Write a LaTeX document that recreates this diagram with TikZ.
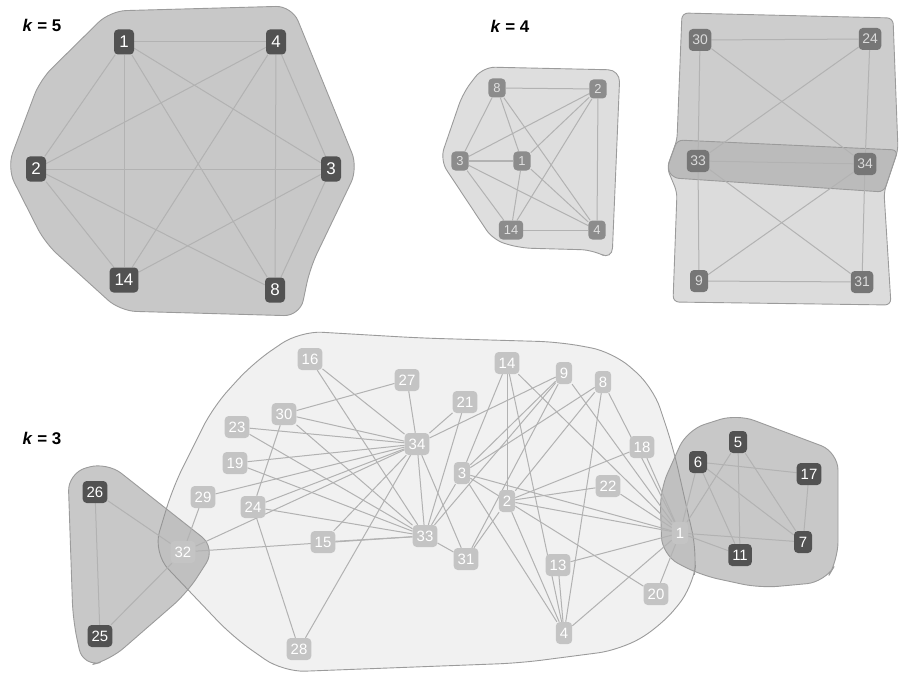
\documentclass[tikz,border=0pt]{standalone}
\usepackage{fontspec}
\setmainfont{Liberation Sans}
\usetikzlibrary{backgrounds}
\definecolor{edgegray}{RGB}{178,178,178}
\definecolor{nodedark}{RGB}{82,82,82}
\definecolor{nodemid}{RGB}{140,140,140}
\definecolor{nodedeep}{RGB}{118,118,118}
\definecolor{nodelight}{RGB}{196,196,196}
\definecolor{hullline}{RGB}{155,155,155}
\definecolor{hullfive}{RGB}{200,200,200}
\definecolor{hullfour}{RGB}{222,222,222}
\definecolor{hullthree}{RGB}{241,241,241}
\definecolor{hullshade}{RGB}{145,145,145}
\definecolor{hulltop}{RGB}{155,155,155}
\definecolor{hullbot}{RGB}{185,185,185}

\begin{document}
\begin{tikzpicture}[x=1bp, y=-1bp,
    edge/.style={draw=edgegray, line width=1bp},
    hull/.style={draw=hullline, line width=0.9bp, rounded corners=#1},
    hull/.default=16bp,
    num/.style={rectangle, rounded corners=4bp, inner ysep=0pt, text depth=0pt},
    fivenum/.style={num, fill=nodedark, text=white, minimum height=25bp, minimum width=20bp, inner xsep=5bp, font=\fontsize{17}{17}\selectfont},
    fournum/.style={num, fill=nodemid, text=black!12, minimum height=19bp, minimum width=16bp, inner xsep=5bp, font=\fontsize{13}{13}\selectfont},
    deepnum/.style={num, fill=nodedeep, text=black!14, minimum height=22bp, minimum width=18bp, inner xsep=3.5bp, font=\fontsize{14}{14}\selectfont},
    threenum/.style={num, fill=nodelight, text=white, minimum height=22bp, minimum width=16bp, inner xsep=4bp, font=\fontsize{15}{15}\selectfont},
    darknum/.style={num, fill=nodedark, text=white, minimum height=22bp, minimum width=18bp, inner xsep=4bp, font=\fontsize{15}{15}\selectfont},
    klabel/.style={font=\fontsize{17}{17}\selectfont\bfseries}]
    \useasboundingbox (0,0) rectangle (901,676);

    % Titles
    \node[klabel] (kfive) at (42,25) {\textit{k} = 5};
    \node[klabel] (kfour) at (510,26) {\textit{k} = 4};
    \node[klabel] (kthree) at (42,438) {\textit{k} = 3};

    % k = 5 clique
    \node[fivenum] (a1) at (124,42) {1};
    \node[fivenum] (a4) at (276,42) {4};
    \node[fivenum] (a2) at (36,169) {2};
    \node[fivenum] (a3) at (331,169) {3};
    \node[fivenum] (a14) at (124,280) {14};
    \node[fivenum] (a8) at (275,290) {8};

    % k = 4, left community
    \node[fournum] (b8) at (497,88) {8};
    \node[fournum] (b2) at (598,89) {2};
    \node[fournum] (b3) at (460,161) {3};
    \node[fournum] (b1) at (522,161) {1};
    \node[fournum] (b14) at (511,230) {14};
    \node[fournum] (b4) at (597,230) {4};

    % k = 4, right communities
    \node[deepnum] (c30) at (700,40) {30};
    \node[deepnum] (c24) at (870,39) {24};
    \node[deepnum] (c33) at (698,161) {33};
    \node[deepnum] (c34) at (865,164) {34};
    \node[deepnum] (c9) at (699,281) {9};
    \node[deepnum] (c31) at (862,282) {31};

    % k = 3, left and right communities
    \node[darknum] (d26) at (95,492) {26};
    \node[darknum] (d25) at (100,636) {25};
    \node[darknum] (d6) at (698,462) {6};
    \node[darknum] (d5) at (738,442) {5};
    \node[darknum] (d17) at (809,474) {17};
    \node[darknum] (d7) at (803,542) {7};
    \node[darknum] (d11) at (740,555) {11};

    % k = 3, big community
    \node[threenum] (d32) at (183,552) {32};
    \node[threenum] (d29) at (203,497) {29};
    \node[threenum] (d24) at (253,507) {24};
    \node[threenum] (d23) at (237,427) {23};
    \node[threenum] (d19) at (235,463) {19};
    \node[threenum] (d30) at (284,414) {30};
    \node[threenum] (d16) at (310,359) {16};
    \node[threenum] (d27) at (407,380) {27};
    \node[threenum] (d21) at (465,402) {21};
    \node[threenum] (d34) at (417,444) {34};
    \node[threenum] (d3) at (462,473) {3};
    \node[threenum] (d15) at (323,542) {15};
    \node[threenum] (d33) at (425,536) {33};
    \node[threenum] (d31) at (466,559) {31};
    \node[threenum] (d28) at (299,649) {28};
    \node[threenum] (d14) at (507,363) {14};
    \node[threenum] (d9) at (564,373) {9};
    \node[threenum] (d8) at (603,382) {8};
    \node[threenum] (d18) at (642,447) {18};
    \node[threenum] (d22) at (608,486) {22};
    \node[threenum] (d2) at (507,501) {2};
    \node[threenum] (d1) at (680,533) {1};
    \node[threenum] (d13) at (558,565) {13};
    \node[threenum] (d20) at (656,594) {20};
    \node[threenum] (d4) at (564,633) {4};

    \begin{scope}[on background layer]
    % Hulls
    \draw[hull, fill=hullfive] (110,11) -- (292,6) -- (358,168) -- (310,268) -- (300,316) -- (120,311) -- (45,243) -- (7,168) -- (40,80) -- cycle;
    \draw[hull=12bp, fill=hullfour] (483,67) -- (620,70) -- (612,260) -- (593,250) -- (520,248) -- (493,240) -- (440,160) -- (463,93) -- cycle;
    \draw[hull=6bp, fill=hullbot, fill opacity=0.5] (677,140) -- (898,150) -- (884,192) -- (891,305) -- (673,302) -- (677,192) -- (667,168) -- cycle;
    \draw[hull=6bp, fill=hulltop, fill opacity=0.5] (682,13) -- (893,18) -- (898,150) -- (884,192) -- (673,178) -- (667,168) -- (677,140) -- cycle;
    \draw[hull=22bp, fill=hullthree] (300,331) -- (420,338) -- (560,342) -- (613,352) -- (653,387) -- (673,447) -- (697,553) -- (693,587) -- (660,627) -- (620,650) -- (520,663) -- (283,672) -- (233,637) -- (153,553) -- (173,487) -- (213,407) -- (253,363) -- cycle;
    \draw[hull=18bp, fill=hullshade, fill opacity=0.5] (68,473) -- (107,462) -- (216,548) -- (187,593) -- (110,660) -- (83,667) -- (73,620) -- cycle;
    \draw[hull=18bp, fill=hullshade, fill opacity=0.5] (687,430) -- (737,414) -- (838,452) -- (838,560) -- (825,582) -- (760,588) -- (700,575) -- (662,555) -- (660,490) -- cycle;

    % Edges
    \foreach \u/\v in {1/4,1/2,1/14,1/3,1/8,4/2,4/14,4/8,4/3,2/3,2/14,2/8,3/14,3/8}
        \draw[edge] (a\u) -- (a\v);
    \foreach \u/\v in {8/2,8/3,8/1,8/4,2/3,2/1,2/14,2/4,3/1,3/14,3/4,1/14,1/4,14/4}
        \draw[edge] (b\u) -- (b\v);
    \foreach \u/\v in {30/24,30/33,30/34,24/33,24/34,33/34,33/9,33/31,34/9,34/31,9/31}
        \draw[edge] (c\u) -- (c\v);
    \foreach \u/\v in {26/25,26/32,25/32,32/29,32/33,32/34,24/28,24/30,24/33,24/34,
        23/33,23/34,19/33,19/34,29/34,30/27,30/33,30/34,16/33,16/34,27/34,21/33,21/34,
        15/33,15/34,28/34,31/33,31/34,31/9,31/2,33/34,33/3,33/9,34/9,
        3/14,3/9,3/8,3/2,3/1,3/4,2/14,2/8,2/18,2/22,2/1,2/20,2/4,14/4,14/1,8/4,8/1,
        9/1,13/1,13/4,4/1,18/1,22/1,20/1,
        1/5,1/6,1/7,1/11,5/7,5/11,6/7,6/11,6/17,7/17}
        \draw[edge] (d\u) -- (d\v);
    \end{scope}
\end{tikzpicture}
\end{document}
